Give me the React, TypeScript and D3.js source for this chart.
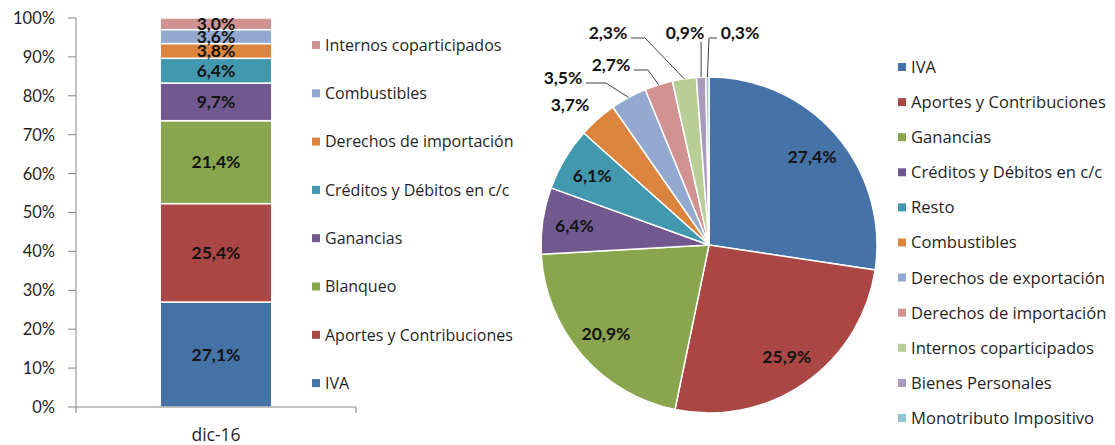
import React from "react";
import * as d3 from "d3";

// ---------- Data ----------
const barCategory = ["dic-16"];
const barSeries = [
  "IVA",
  "Aportes y Contribuciones",
  "Blanqueo",
  "Ganancias",
  "Créditos y Débitos en c/c",
  "Derechos de importación",
  "Combustibles",
  "Internos coparticipados",
];
const barValues = [27.1, 25.4, 21.4, 9.7, 6.4, 3.8, 3.6, 3.0];
const barColors = ["#4572A7", "#AA4643", "#89A54E", "#71588F", "#4198AF", "#DB843D", "#93A9CF", "#D19392"];
const yTicks = [0, 0.1, 0.2, 0.3, 0.4, 0.5, 0.6, 0.7, 0.8, 0.9, 1];

const pieCategories = [
  "IVA",
  "Aportes y Contribuciones",
  "Ganancias",
  "Créditos y Débitos en c/c",
  "Resto",
  "Combustibles",
  "Derechos de exportación",
  "Derechos de importación",
  "Internos coparticipados",
  "Bienes Personales",
  "Monotributo Impositivo",
];
const pieValues = [27.4, 25.9, 20.9, 6.4, 6.1, 3.7, 3.5, 2.7, 2.3, 0.9, 0.3];
const pieColors = [
  "#4572A7", "#AA4643", "#89A54E", "#71588F", "#4198AF", "#DB843D",
  "#93A9CF", "#D19392", "#B9CD96", "#A99BBD", "#91C3D5",
];

// ---------- Layout (positions of outside pie labels) ----------
// [dx, dy from pie centre, leader side (1 right, -1 left, 0 vertical, null none), elbow length]
const outsideLabelLayout: Record<string, [number, number, number | null, number]> = {
  "Combustibles": [-139, -140, null, 0],
  "Derechos de exportación": [-146, -167, 1, 20],
  "Derechos de importación": [-98, -180, 1, 14],
  "Internos coparticipados": [-101, -212, 1, 14],
  "Bienes Personales": [-24, -212, 0, 0],
  "Monotributo Impositivo": [31, -212, -1, 8],
};

const FONT = "Lato, 'Open Sans', sans-serif";
const LEGEND_FONT = "'Open Sans', Lato, sans-serif";
const fmt = (v: number) => v.toFixed(1).replace(".", ",") + "%";

export default function App() {
  // ----- Stacked bar -----
  const y = d3.scaleLinear().domain([0, 1]).range([407, 18]);
  const x = d3.scaleBand().domain(barCategory).range([76, 356]).paddingInner(0.43).paddingOuter(0.43);
  const row: Record<string, number | string> = { cat: barCategory[0] };
  barSeries.forEach((s, i) => (row[s] = barValues[i]));
  const stack = d3.stack<any>().keys(barSeries).offset(d3.stackOffsetExpand);
  const stacked = stack([row]);
  const bx = x(barCategory[0])!;
  const bw = x.bandwidth();

  // ----- Pie -----
  const cx = 709, cy = 245, R = 168;
  const pie = d3.pie<number>().sort(null).value((d) => d);
  const arcs = pie(pieValues);
  const arc = d3.arc<d3.PieArcDatum<number>>().innerRadius(0).outerRadius(R);
  const labelArc = d3.arc<d3.PieArcDatum<number>>().innerRadius(136 * 2 - R).outerRadius(R);
  const mid = (a: d3.PieArcDatum<number>) => (a.startAngle + a.endAngle) / 2;

  return (
    <svg width={1115} height={445} style={{ position: "absolute", left: 0, top: 0, background: "#fff" }} fontFamily={FONT}>
      {/* y axis */}
      <line x1={76} x2={76} y1={y(1)} y2={y(0) + 6} stroke="#868686" />
      {yTicks.map((t) => (
        <g key={t}>
          <line x1={68} x2={76} y1={y(t)} y2={y(t)} stroke="#868686" />
          <text x={55} y={y(t)} dy="0.36em" textAnchor="end" fontSize={16.5} fill="#1f1f1f">
            {Math.round(t * 100)}%
          </text>
        </g>
      ))}
      {/* bars */}
      {stacked.map((layer, i) => {
        const d = layer[0];
        const y0 = y(d[0]), y1 = y(d[1]);
        return (
          <g key={barSeries[i]}>
            <rect x={bx} width={bw} y={y1} height={y0 - y1} fill={barColors[i]} stroke="#fff" strokeWidth={1.5} />
            <text x={bx + bw / 2} y={(y0 + y1) / 2} dy="0.36em" textAnchor="middle" fontSize={17.5} fontWeight="bold" fill="#141414">
              {fmt(barValues[i])}
            </text>
          </g>
        );
      })}
      {/* x axis */}
      <line x1={76} x2={356} y1={y(0)} y2={y(0)} stroke="#868686" />
      <line x1={356} x2={356} y1={y(0)} y2={y(0) + 6} stroke="#868686" />
      <text x={bx + bw / 2} y={441} textAnchor="middle" fontSize={17.5} fill="#1f1f1f" fontFamily={LEGEND_FONT}>
        {barCategory[0]}
      </text>
      {/* left legend */}
      {barSeries
        .map((s, i) => ({ s, i }))
        .reverse()
        .map(({ s, i }, k) => (
          <g key={s} transform={`translate(312, ${45 + k * 48.3})`}>
            <rect x={0} y={-4} width={8} height={8} fill={barColors[i]} />
            <text x={13} y={0} dy="0.36em" fontSize={16} fill="#1f1f1f" fontFamily={LEGEND_FONT}>
              {s}
            </text>
          </g>
        ))}

      {/* pie */}
      <g transform={`translate(${cx},${cy})`}>
        {arcs.map((a, i) => (
          <path key={pieCategories[i]} d={arc(a)!} fill={pieColors[i]} stroke="#fff" strokeWidth={1.5} />
        ))}
        {arcs.map((a, i) => {
          const name = pieCategories[i];
          const lay = outsideLabelLayout[name];
          if (!lay) {
            const [lx, ly] = labelArc.centroid(a);
            return (
              <text key={name} x={lx} y={ly} dy="0.36em" textAnchor="middle" fontSize={17.5} fontWeight="bold" fill="#141414">
                {fmt(pieValues[i])}
              </text>
            );
          }
          const [dx, dy, side, elbow] = lay;
          const m = mid(a);
          const ax = Math.sin(m) * R, ay = -Math.cos(m) * R;
          const w = 40;
          let line: string | null = null;
          if (side === 0) {
            line = `M${ax},${dy + 9}L${ax},${ay}`;
          } else if (side !== null) {
            const sx = dx + side * (w / 2 + 3);
            const sy = dy + 5;
            line = `M${sx},${sy}L${sx + side * elbow},${sy}L${ax},${ay}`;
          }
          return (
            <g key={name}>
              {line && <path d={line} fill="none" stroke="#404040" strokeWidth={1} />}
              <text x={dx} y={dy} dy="0.36em" textAnchor="middle" fontSize={17.5} fontWeight="bold" fill="#141414">
                {fmt(pieValues[i])}
              </text>
            </g>
          );
        })}
      </g>
      {/* right legend */}
      {pieCategories.map((s, i) => (
        <g key={s} transform={`translate(898, ${67 + i * 35.1})`}>
          <rect x={0} y={-4} width={8} height={8} fill={pieColors[i]} />
          <text x={13} y={0} dy="0.36em" fontSize={16.6} fill="#1f1f1f" fontFamily={LEGEND_FONT}>
            {s}
          </text>
        </g>
      ))}
    </svg>
  );
}
